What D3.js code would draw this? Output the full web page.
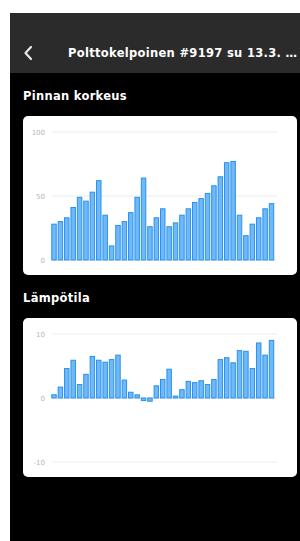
<!DOCTYPE html>
<html>
<head>
<meta charset="utf-8">
<script src="https://cdn.jsdelivr.net/npm/d3@7"></script>
<style>
  html, body { margin: 0; padding: 0; background: #fff; }
  svg { display: block; font-family: "DejaVu Sans", "Liberation Sans", sans-serif; }
</style>
</head>
<body>
<svg id="screen" width="300" height="541"></svg>
<script>
// values
var titleText = "Polttokelpoinen #9197 su 13.3. \u2026";
var levelLabel = "Pinnan korkeus";
var tempLabel = "L\u00e4mp\u00f6tila";

var levelValues = [28, 30, 33, 41, 49, 46, 53, 62, 35, 11, 27, 30, 37, 49, 64, 26, 33, 40,
  26, 29, 35, 40, 45, 48, 52, 58, 65, 76, 77, 35, 19, 28, 33, 40, 44];
var levelTicks = [0, 50, 100];

var tempValues = [0.5, 1.7, 4.6, 5.9, 2.1, 3.7, 6.5, 5.9, 5.6, 6.0, 6.7, 2.8, 0.9, 0.5, -0.4, -0.5,
  1.9, 2.9, 4.5, 0.3, 1.3, 2.6, 2.4, 2.7, 2.1, 2.9, 6.0, 6.3, 5.5, 7.4, 7.3, 4.6, 8.6, 6.7, 9.0];
var tempTicks = [-10, 0, 10];

var svg = d3.select("#screen");

// white margin, then the phone screen
svg.append("rect").attr("x", 10).attr("y", 13).attr("width", 290).attr("height", 528).attr("fill", "#000");
svg.append("rect").attr("x", 10).attr("y", 13).attr("width", 290).attr("height", 60).attr("fill", "#2b2b2b");

// back chevron
svg.append("path")
  .attr("d", "M31,47 L25.5,53 L31,59")
  .attr("fill", "none").attr("stroke", "#e8e8e8").attr("stroke-width", 2.2)
  .attr("stroke-linecap", "round").attr("stroke-linejoin", "round");

svg.append("text")
  .attr("x", 68).attr("y", 57)
  .attr("fill", "#fff").attr("font-size", 11.5).attr("font-weight", "bold")
  .attr("textLength", 229).attr("lengthAdjust", "spacing")
  .text(titleText);

function barCard(top, label, values, ticks, domain) {
  var g = svg.append("g");
  g.append("text")
    .attr("x", 23).attr("y", top - 16)
    .attr("fill", "#fff").attr("font-size", 11.5).attr("font-weight", "bold")
    .attr("letter-spacing", 0.3)
    .text(label);

  g.append("rect")
    .attr("x", 23).attr("y", top).attr("width", 274).attr("height", 159)
    .attr("rx", 5).attr("fill", "#fff");

  var y = d3.scaleLinear().domain(domain).range([top + 144, top + 16]);
  var x = d3.scaleBand()
    .domain(d3.range(values.length))
    .range([50.8, 274.7])
    .paddingInner(0.3).paddingOuter(0.15);

  g.selectAll(".grid").data(ticks).enter().append("line")
    .attr("x1", 52).attr("x2", 277)
    .attr("y1", function(d) { return y(d); }).attr("y2", function(d) { return y(d); })
    .attr("stroke", "#ececec").attr("stroke-width", 1.2);

  g.selectAll(".tick").data(ticks).enter().append("text")
    .attr("x", 45).attr("y", function(d) { return y(d) + 2.5; })
    .attr("text-anchor", "end").attr("fill", "#b5b5b5").attr("font-size", 7)
    .text(function(d) { return d; });

  g.selectAll(".bar").data(values).enter().append("rect")
    .attr("x", function(d, i) { return x(i); })
    .attr("width", x.bandwidth())
    .attr("y", function(d) { return Math.min(y(d), y(0)); })
    .attr("height", function(d) { return Math.max(1, Math.abs(y(d) - y(0))); })
    .attr("fill", "#6fb9f7").attr("stroke", "#2a90ee").attr("stroke-width", 1);
}

barCard(116, levelLabel, levelValues, levelTicks, [0, 100]);
barCard(318, tempLabel, tempValues, tempTicks, [-10, 10]);
</script>
</body>
</html>
